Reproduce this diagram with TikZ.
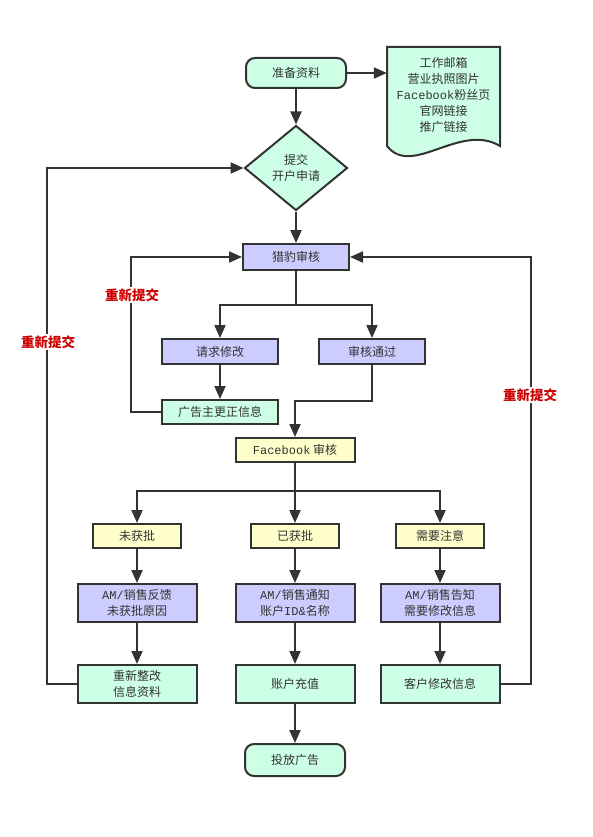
\documentclass[tikz,border=0pt]{standalone}
\usepackage{fontspec}
\setmainfont{Noto Sans CJK SC}
\setmonofont{Liberation Mono}
\usetikzlibrary{arrows.meta,shapes.geometric}
\definecolor{lc}{HTML}{333333}
\definecolor{gfill}{HTML}{CCFFE6}
\definecolor{pfill}{HTML}{CCCCFF}
\definecolor{yfill}{HTML}{FFFFCC}
\definecolor{redtxt}{HTML}{CC0000}
\newcommand{\mono}[1]{{\ttfamily #1}}
\begin{document}
\begin{tikzpicture}[x=1pt,y=-1pt,
  every node/.style={text=lc,font=\fontsize{12}{16}\selectfont,align=center,inner sep=0pt},
  box/.style={draw=lc,line width=2pt,rectangle},
  gbox/.style={box,fill=gfill},
  pbox/.style={box,fill=pfill},
  ybox/.style={box,fill=yfill},
  term/.style={box,fill=gfill,rounded corners=9pt},
  arr/.style={draw=lc,line width=2pt,-{Triangle[length=13pt,width=11pt]}},
  lnk/.style={draw=lc,line width=2pt},
  redo/.style={fill=white,text=redtxt,font=\fontsize{13.5}{15}\selectfont\bfseries,inner sep=1.5pt}
]
\useasboundingbox (0,0) rectangle (592,837);

% top
\node[term,minimum width=100pt,minimum height=30pt] (prep) at (296,73) {准备资料};
\draw[draw=lc,line width=2pt,fill=gfill]
  (387,47) -- (500,47) -- (500,146)
  .. controls (460,122) and (412,178) .. (387,146) -- cycle;
\node[minimum width=113pt,minimum height=100pt] (doc) at (443.5,95) {工作邮箱\\营业执照图片\\\mono{Facebook}粉丝页\\官网链接\\推广链接};

\node[draw=lc,line width=2pt,fill=gfill,shape=diamond,minimum width=103pt,minimum height=85pt] (sub) at (296,168) {提交\\开户申请};

\node[pbox,minimum width=106pt,minimum height=26pt] (lb) at (296,257) {猎豹审核};
\node[pbox,minimum width=116pt,minimum height=25pt] (req) at (220,351.5) {请求修改};
\node[pbox,minimum width=106pt,minimum height=25pt] (pass) at (372,351.5) {审核通过};
\node[gbox,minimum width=116pt,minimum height=24pt] (fix) at (220,412) {广告主更正信息};

\node[ybox,minimum width=119pt,minimum height=24pt] (fb) at (295,450) {\mono{Facebook} 审核};

\node[ybox,minimum width=88pt,minimum height=24pt] (no) at (137,536) {未获批};
\node[ybox,minimum width=88pt,minimum height=24pt] (yes) at (295,536) {已获批};
\node[ybox,minimum width=88pt,minimum height=24pt] (att) at (440,536) {需要注意};

\node[pbox,minimum width=119pt,minimum height=38pt] (amno) at (137,603) {\mono{AM/}销售反馈\\未获批原因};
\node[pbox,minimum width=119pt,minimum height=38pt] (amyes) at (295,603) {\mono{AM/}销售通知\\账户\mono{ID\&}名称};
\node[pbox,minimum width=119pt,minimum height=38pt] (amatt) at (440,603) {\mono{AM/}销售告知\\需要修改信息};

\node[gbox,minimum width=119pt,minimum height=38pt] (redo) at (137,684) {重新整改\\信息资料};
\node[gbox,minimum width=119pt,minimum height=38pt] (pay) at (295,684) {账户充值};
\node[gbox,minimum width=119pt,minimum height=38pt] (cust) at (440,684) {客户修改信息};

\node[term,minimum width=100pt,minimum height=32pt] (ad) at (295,760) {投放广告};

% connectors
\draw[arr] (prep.east) -- (doc.west |- prep.east);
\draw[arr] (prep.south) -- (sub.north);
\draw[arr] (sub.south) -- (lb.north);
\draw[lnk] (lb.south) -- ++(0,34) coordinate (split1);
\draw[arr] (split1) -| (req.north);
\draw[arr] (split1) -| (pass.north);
\draw[arr] (req.south) -- (fix.north);
\draw[arr] (fix.west) -- ++(-30,0) |- (lb.west);
\draw[arr] (pass.south) -- ++(0,36) -| (fb.north);
\draw[lnk] (fb.south) -- ++(0,28) coordinate (split2);
\draw[arr] (split2) -| (no.north);
\draw[arr] (split2) -- (yes.north);
\draw[arr] (split2) -| (att.north);
\draw[arr] (no.south) -- (amno.north);
\draw[arr] (yes.south) -- (amyes.north);
\draw[arr] (att.south) -- (amatt.north);
\draw[arr] (amno.south) -- (redo.north);
\draw[arr] (amyes.south) -- (pay.north);
\draw[arr] (amatt.south) -- (cust.north);
\draw[arr] (pay.south) -- (ad.north);
\draw[arr] (redo.west) -- ++(-30,0) |- (sub.west);
\draw[arr] (cust.east) -- ++(30,0) |- (lb.east);

% labels
\node[redo] (r1) at (132,295) {重新提交};
\node[redo] (r2) at (48,342) {重新提交};
\node[redo] (r3) at (530,395) {重新提交};
\end{tikzpicture}
\end{document}
